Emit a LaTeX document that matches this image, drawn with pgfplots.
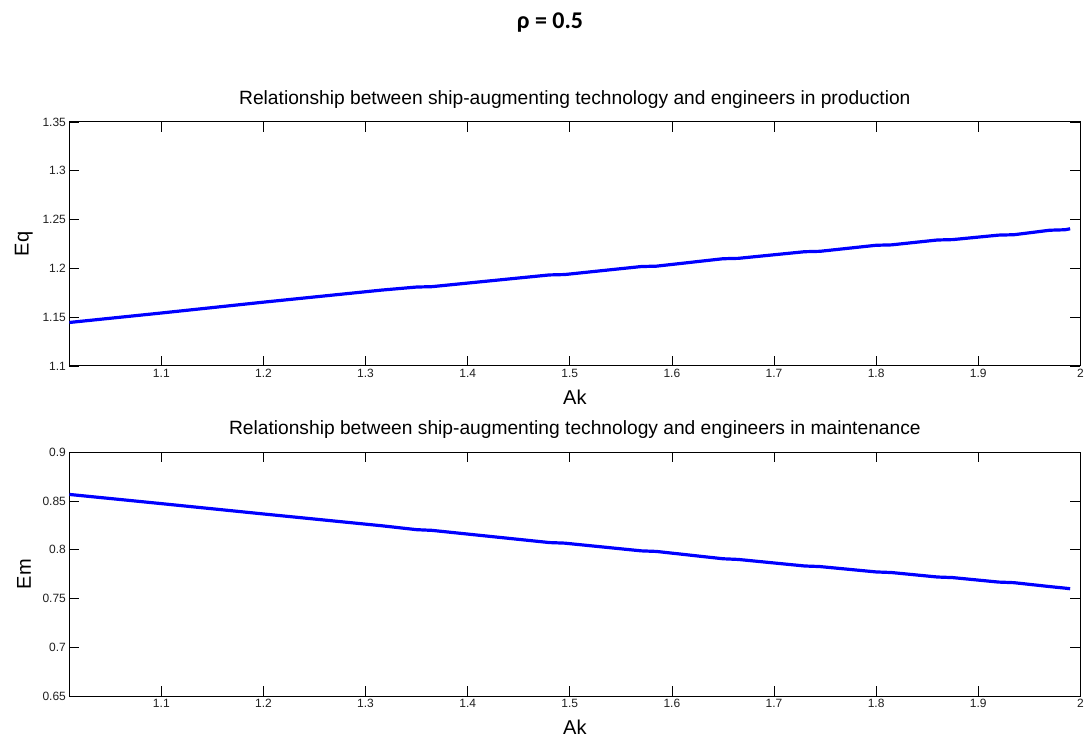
\documentclass[border=0pt]{standalone}
\usepackage{pgfplots}
\pgfplotsset{compat=1.18}
\usepackage{fontspec}
\setmainfont{Liberation Sans}
\newfontfamily\titlefont{Carlito}
\begin{document}
\begin{tikzpicture}[x=1pt,y=1pt]
\useasboundingbox (0,0) rectangle (1089,740);
\pgfplotsset{
  myax/.style={
    scale only axis, width=1011pt, height=244pt,
    xmin=1.01, xmax=2,
    xtick={1.1,1.2,1.3,1.4,1.5,1.6,1.7,1.8,1.9,2},
    xticklabels={1.1,1.2,1.3,1.4,1.5,1.6,1.7,1.8,1.9,2},
    tick align=inside, major tick length=10pt,
    tick style={black, line width=0.6pt},
    axis line style={black, line width=0.9pt},
    ticklabel style={font=\fontsize{12}{13}\selectfont, text=black!88},
    /pgf/number format/assume math mode=true,
    title style={font=\fontsize{19.2}{22}\selectfont, at={(axis description cs:0.5,1)}, anchor=base, yshift=11.3pt, inner sep=0pt},
    xlabel style={font=\fontsize{20}{22}\selectfont, at={(axis description cs:0.5,0)}, anchor=center, yshift=-31pt, inner sep=0pt},
    ylabel style={font=\fontsize{20}{22}\selectfont, at={(axis description cs:0,0.5)}, anchor=center, yshift=45.5pt, inner sep=0pt},
    xlabel=Ak,
  }
}
\begin{axis}[myax, at={(68,383.3)}, anchor=south west,
  ymin=1.1, ymax=1.35,
  ytick={1.1,1.15,1.2,1.25,1.3,1.35},
  yticklabels={1.1,1.15,1.2,1.25,1.3,1.35},
  ylabel=Eq,
  title={Relationship between ship-augmenting technology and engineers in production}]
\addplot[color=blue, line width=3.2pt, no markers] coordinates {(1.01,1.1445)(1.10,1.1542)(1.20,1.1653)(1.316,1.1777)(1.35,1.1808)(1.365,1.1812)(1.48,1.1932)(1.495,1.1936)(1.57,1.2018)(1.585,1.2022)(1.65,1.2098)(1.665,1.2102)(1.73,1.2170)(1.745,1.2174)(1.80,1.2236)(1.815,1.2240)(1.86,1.2290)(1.875,1.2294)(1.92,1.2340)(1.935,1.2344)(1.97,1.2390)(1.985,1.2395)(1.99,1.2405)};
\end{axis}
\begin{axis}[myax, at={(68,45)}, anchor=south west,
  ymin=0.65, ymax=0.9,
  ytick={0.65,0.7,0.75,0.8,0.85,0.9},
  yticklabels={0.65,0.7,0.75,0.8,0.85,0.9},
  ylabel=Em,
  title={Relationship between ship-augmenting technology and engineers in maintenance}]
\addplot[color=blue, line width=3.2pt, no markers] coordinates {(1.01,0.8566)(1.10,0.8472)(1.20,0.8366)(1.316,0.8245)(1.35,0.8205)(1.365,0.8198)(1.48,0.8073)(1.495,0.8067)(1.57,0.7988)(1.585,0.7982)(1.65,0.7907)(1.665,0.7900)(1.73,0.7833)(1.745,0.7827)(1.80,0.7772)(1.815,0.7766)(1.86,0.7720)(1.875,0.7714)(1.92,0.7668)(1.935,0.7662)(1.97,0.7622)(1.985,0.7606)(1.99,0.7600)};
\end{axis}
\node[font=\titlefont\bfseries\fontsize{24}{26}\selectfont, anchor=base, inner sep=0pt] at (550,711.7) {ρ = 0.5};
\end{tikzpicture}
\end{document}
